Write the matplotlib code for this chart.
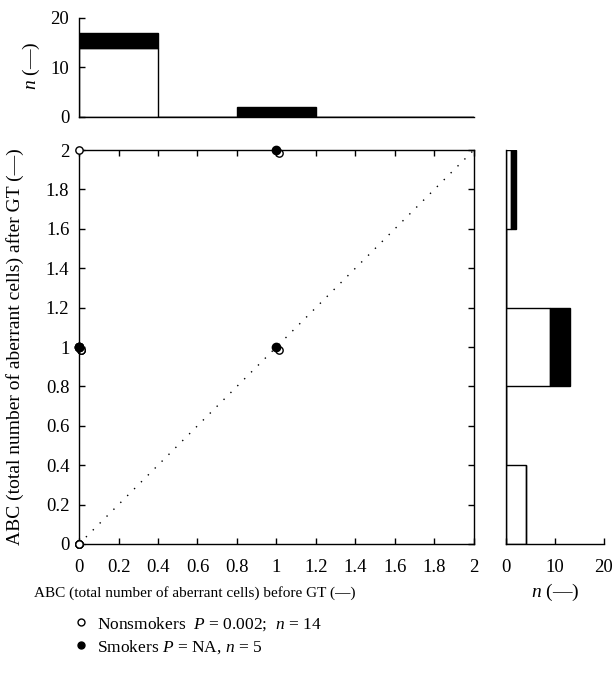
import numpy as np
import matplotlib
matplotlib.use('Agg')
import matplotlib.pyplot as plt
from matplotlib.lines import Line2D
import matplotlib.transforms as mtransforms

plt.rcParams['font.family'] = ['Liberation Serif', 'DejaVu Serif']
plt.rcParams['mathtext.fontset'] = 'custom'
plt.rcParams['mathtext.rm'] = 'Liberation Serif'
plt.rcParams['mathtext.it'] = 'Liberation Serif:italic'

# ABC before / after GT, one entry per subject
ns_before = [0] * 4 + [0] * 9 + [0] * 1
ns_after = [0] * 4 + [1] * 9 + [2] * 1
sm_before = [0, 0, 0, 1, 1]
sm_after = [1, 1, 1, 1, 2]

bins = np.linspace(0, 2, 6)
abc_ticks = [0, 0.2, 0.4, 0.6, 0.8, 1, 1.2, 1.4, 1.6, 1.8, 2]
abc_labels = ['0', '0.2', '0.4', '0.6', '0.8', '1', '1.2', '1.4', '1.6', '1.8', '2']
n_ticks = [0, 10, 20]

ns_label = 'Nonsmokers  $P$ = 0.002;  $n$ = 14'
sm_label = 'Smokers $P$ = NA, $n$ = 5'
xlab = 'ABC (total number of aberrant cells) before GT (—)'
ylab = 'ABC (total number of aberrant cells) after GT (—)'
nlab = '$n$ (—)'

TICK_FS = 13.5
XLAB_FS = 11
YLAB_FS = 14
N_FS = 14
LEG_FS = 12.5

fig = plt.figure(figsize=(6.15, 6.8), dpi=100)
ax = fig.add_axes([0.1285, 0.2, 0.642, 0.5794])
axt = fig.add_axes([0.1285, 0.828, 0.642, 0.1456])
axr = fig.add_axes([0.8228, 0.2, 0.1593, 0.5794])

# main scatter
ax.plot([0, 2], [0, 2], color='k', lw=1.0, ls=(0, (1, 6)), zorder=1)
ax.scatter(ns_before, ns_after, s=28, facecolor='white', edgecolor='k',
           lw=1.0, zorder=3, clip_on=False)
shadow = mtransforms.offset_copy(ax.transData, fig=fig, x=2.3, y=-2.5, units='dots')
ax.scatter(sm_before, sm_after, s=28, facecolor='white', edgecolor='k',
           lw=1.0, zorder=2, clip_on=False, transform=shadow)
ax.scatter(sm_before, sm_after, s=36, facecolor='k', edgecolor='k',
           lw=1.0, zorder=4, clip_on=False)
ax.set_xlim(0, 2)
ax.set_ylim(0, 2)
ax.set_xticks(abc_ticks)
ax.set_xticklabels(abc_labels)
ax.set_yticks(abc_ticks)
ax.set_yticklabels(abc_labels)
ax.tick_params(direction='in', top=True, right=True, length=4, width=1,
               labelsize=TICK_FS)
ax.tick_params(axis='y', pad=7)
ax.tick_params(axis='x', pad=11)
ax.set_xlabel(xlab, fontsize=XLAB_FS, va='center')
ax.xaxis.set_label_coords(0.294, -0.124)
ax.set_ylabel(ylab, fontsize=YLAB_FS)
ax.yaxis.set_label_coords(-0.14, 0.5)

# top histogram (before GT)
axt.hist([ns_before, sm_before], bins=bins, stacked=True,
         color=['white', 'black'], edgecolor='black', lw=1.0)
axt.set_xlim(0, 2)
axt.set_ylim(0, 20)
axt.set_yticks(n_ticks)
axt.set_xticks([])
axt.tick_params(direction='in', length=4, width=1, labelsize=TICK_FS, pad=7)
axt.spines['top'].set_visible(False)
axt.spines['right'].set_visible(False)
axt.set_ylabel(nlab, fontsize=N_FS)
axt.yaxis.set_label_coords(-0.095, 0.515)

# right histogram (after GT)
axr.hist([ns_after, sm_after], bins=bins, stacked=True, orientation='horizontal',
         color=['white', 'black'], edgecolor='black', lw=1.0)
axr.set_ylim(0, 2)
axr.set_xlim(0, 20)
axr.set_xticks(n_ticks)
axr.set_yticks([])
axr.tick_params(direction='in', length=4, width=1, labelsize=TICK_FS, pad=11)
axr.spines['top'].set_visible(False)
axr.spines['right'].set_visible(False)
axr.set_xlabel(nlab, fontsize=N_FS, va='center')
axr.xaxis.set_label_coords(0.5, -0.124)

for a in (ax, axt, axr):
    for sp in a.spines.values():
        sp.set_linewidth(1.0)

handles = [
    Line2D([], [], ls='none', marker='o', ms=5, mfc='white', mec='k', mew=1.0),
    Line2D([], [], ls='none', marker='o', ms=5, mfc='k', mec='k', mew=1.0),
]
fig.legend(handles, [ns_label, sm_label], loc='upper left',
           bbox_to_anchor=(0.12, 0.0956), frameon=False, fontsize=LEG_FS,
           handlelength=0.8, handletextpad=0.55, labelspacing=0.3, borderpad=0,
           borderaxespad=0)

fig.savefig('out.png', dpi=100)
